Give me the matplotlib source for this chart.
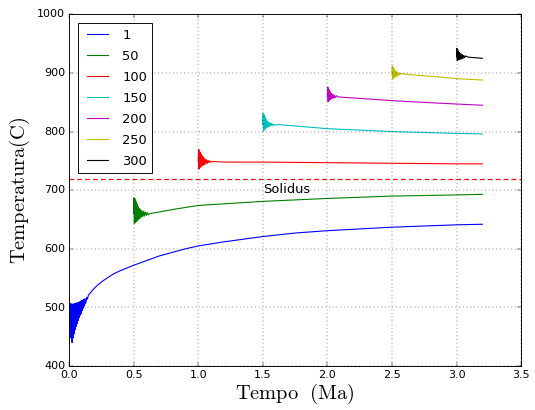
import matplotlib
matplotlib.use('Agg')
import matplotlib.pyplot as plt

plt.style.use('classic')
plt.rcParams['mathtext.fontset'] = 'cm'

# cooling curves per intrusion depth: (time [Ma], temperature [C])
t_1 = [0.000, 0.004, 0.008, 0.012, 0.016, 0.020, 0.024, 0.028, 0.032, 0.036,
       0.040, 0.044, 0.048, 0.052, 0.056, 0.060, 0.064, 0.068, 0.072, 0.076,
       0.080, 0.084, 0.088, 0.092, 0.096, 0.100, 0.104, 0.108, 0.112, 0.116,
       0.120, 0.124, 0.130, 0.136, 0.142, 0.150, 0.180, 0.220, 0.260, 0.300,
       0.350, 0.400, 0.500, 0.600, 0.700, 0.800, 0.900, 1.000, 1.200, 1.500,
       1.750, 2.000, 2.500, 3.000, 3.200]
T_1 = [470, 505, 470, 507, 448, 506, 440, 506, 448, 506,
       455, 507, 462, 507, 468, 508, 473, 508, 478, 509,
       483, 510, 487, 511, 490, 512, 495, 513, 499, 514,
       503, 515, 507, 517, 514, 521, 529, 538, 545, 551,
       558, 563, 572, 580, 588, 594, 600, 605, 612, 621,
       627, 631, 637, 641, 642]

t_50 = [0.500, 0.503, 0.506, 0.509, 0.512, 0.515, 0.518, 0.521, 0.524, 0.528,
        0.532, 0.536, 0.540, 0.545, 0.550, 0.555, 0.560, 0.566, 0.572, 0.578,
        0.584, 0.590, 0.598, 0.606, 0.614, 0.625, 0.700, 0.800, 0.940, 1.000,
        1.500, 2.000, 2.500, 3.000, 3.200]
T_50 = [660, 687, 643, 686, 645, 683, 646, 680, 647, 676,
        649, 672, 651, 669, 652, 667, 654, 665, 655, 664,
        656, 663, 657, 662, 658, 660, 663, 667, 672, 674,
        681, 686, 690, 692, 693]

t_100 = [1.000, 1.003, 1.006, 1.009, 1.012, 1.015, 1.018, 1.021, 1.024, 1.028,
         1.032, 1.036, 1.040, 1.045, 1.050, 1.055, 1.060, 1.066, 1.072, 1.078,
         1.085, 1.092, 1.100, 1.120, 1.200, 1.500, 2.000, 2.500, 3.000, 3.200]
T_100 = [750, 770, 736, 768, 738, 765, 740, 762, 741, 759,
         742, 757, 743, 755, 744, 753, 745, 752, 746, 751,
         747, 750, 748, 749, 748, 748, 747, 746, 745, 745]

t_150 = [1.500, 1.503, 1.506, 1.509, 1.512, 1.515, 1.518, 1.521, 1.524, 1.528,
         1.532, 1.536, 1.540, 1.545, 1.550, 1.555, 1.560, 1.566, 1.572, 1.580,
         1.590, 1.620, 2.000, 2.500, 3.000, 3.200]
T_150 = [812, 831, 801, 829, 803, 826, 804, 823, 806, 820,
         807, 818, 808, 816, 809, 815, 810, 814, 810, 813,
         811, 812, 805, 800, 797, 796]

t_200 = [2.000, 2.003, 2.006, 2.009, 2.012, 2.015, 2.018, 2.021, 2.024, 2.028,
         2.032, 2.036, 2.040, 2.045, 2.050, 2.056, 2.062, 2.070, 2.090, 2.560,
         3.000, 3.200]
T_200 = [860, 876, 851, 874, 853, 871, 854, 868, 855, 866,
         856, 864, 857, 863, 857, 862, 858, 861, 859, 852,
         847, 845]

t_250 = [2.500, 2.503, 2.506, 2.509, 2.512, 2.515, 2.518, 2.521, 2.524, 2.528,
         2.532, 2.536, 2.540, 2.545, 2.550, 2.556, 2.562, 2.570, 2.600, 3.030,
         3.200]
T_250 = [898, 912, 890, 910, 891, 907, 892, 905, 893, 903,
         894, 902, 895, 901, 896, 900, 897, 899, 898, 890,
         888]

t_300 = [3.000, 3.003, 3.006, 3.009, 3.012, 3.015, 3.018, 3.021, 3.024, 3.028,
         3.032, 3.036, 3.040, 3.045, 3.050, 3.056, 3.062, 3.070, 3.090, 3.200]
T_300 = [928, 942, 921, 940, 922, 937, 923, 935, 923, 933,
         924, 932, 924, 931, 925, 930, 926, 929, 927, 925]

labels = ['1', '50', '100', '150', '200', '250', '300']
times = [t_1, t_50, t_100, t_150, t_200, t_250, t_300]
temps = [T_1, T_50, T_100, T_150, T_200, T_250, T_300]

solidus = 720

fig = plt.figure(figsize=(8, 6.131), dpi=66.875)
ax = fig.add_subplot(111)
fig.subplots_adjust(left=0.129, right=0.974, top=0.965, bottom=0.107)

for t, T, lab in zip(times, temps, labels):
    ax.plot(t, T, label=lab, linewidth=1.2)

ax.axhline(solidus, color='red', linestyle='--', linewidth=1.3, dashes=(5, 3.5))
ax.text(1.5, solidus - 25, 'Solidus', fontsize=14)

ax.set_xlim(0, 3.5)
ax.set_ylim(400, 1000)
ax.grid(True)
ax.legend(loc='upper left', fontsize=14, borderaxespad=0.7, handlelength=2.2,
          labelspacing=0.62)
ax.set_xlabel(r'$\mathrm{Tempo\ \ (Ma)}$', fontsize=22)
ax.set_ylabel(r'$\mathrm{Temperatura(C)}$', fontsize=22)
ax.xaxis.labelpad = 2
ax.yaxis.labelpad = 6

fig.savefig('out.png', dpi=66.875)
